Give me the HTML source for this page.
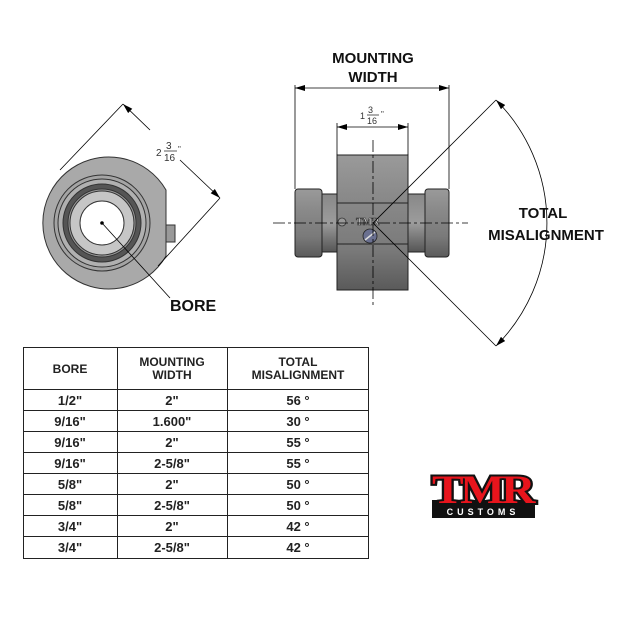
<!DOCTYPE html>
<html><head><meta charset="utf-8"><style>
html,body{margin:0;padding:0;background:#fff}
body{width:620px;height:619px;position:relative;overflow:hidden;font-family:"Liberation Sans",sans-serif}
</style></head><body>
<svg width="620" height="619" viewBox="0 0 620 619" xmlns="http://www.w3.org/2000/svg" style="position:absolute;left:0;top:0">
<defs>
<linearGradient id="cyl" x1="0" y1="0" x2="0" y2="1">
<stop offset="0" stop-color="#9a9a9a"/><stop offset="0.3" stop-color="#8a8a8a"/><stop offset="0.7" stop-color="#7a7a7a"/><stop offset="1" stop-color="#5a5a5a"/>
</linearGradient>
<linearGradient id="hub" x1="0" y1="0" x2="0" y2="1">
<stop offset="0" stop-color="#888"/><stop offset="0.5" stop-color="#9c9c9c"/><stop offset="1" stop-color="#555"/>
</linearGradient>
<marker id="ar" viewBox="0 0 10 6" refX="10" refY="3" markerWidth="10" markerHeight="6" orient="auto-start-reverse" markerUnits="userSpaceOnUse"><path d="M0,0 L10,3 L0,6 z" fill="#000"/></marker>
</defs>

<!-- FRONT VIEW -->
<g stroke="#333" stroke-width="1">
<path d="M166,190 A66,66 0 1 0 166,256 Z" fill="#a9a9a9"/>
<rect x="166" y="225" width="9" height="17" fill="#999"/>
<circle cx="102" cy="223" r="48" fill="#a4a4a4"/>
<circle cx="102" cy="223" r="44" fill="#b0b0b0"/>
<circle cx="102" cy="223" r="39" fill="#555"/>
<circle cx="102" cy="223" r="34" fill="#9a9a9a"/>
<circle cx="102" cy="223" r="32" fill="#c6c6c6"/>
<circle cx="102" cy="223" r="22" fill="#fff"/>
</g>
<circle cx="102" cy="223" r="1.8" fill="#000"/>
<g stroke="#000" stroke-width="0.8" fill="none">
<line x1="123" y1="104" x2="60" y2="170"/>
<line x1="220" y1="198" x2="158" y2="266"/>
<line x1="123" y1="104" x2="150" y2="130" marker-start="url(#ar)"/>
<line x1="180" y1="160" x2="220" y2="198" marker-end="url(#ar)"/>
<line x1="102" y1="223" x2="170" y2="298"/>
</g>
<text x="156" y="156" font-size="10" fill="#333">2</text>
<text x="166" y="149" font-size="10" fill="#333">3</text>
<line x1="164" y1="151" x2="177" y2="151" stroke="#333" stroke-width="0.8"/>
<text x="164" y="161" font-size="10" fill="#333">16</text>
<text x="178" y="152" font-size="8" fill="#333">"</text>
<text x="170" y="311" font-size="16" font-weight="bold" fill="#111">BORE</text>

<!-- SIDE VIEW -->
<g stroke="#222" stroke-width="1">
<rect x="295" y="189" width="27" height="68" rx="3" fill="url(#cyl)"/>
<rect x="322" y="194" width="15" height="58" fill="url(#hub)"/>
<rect x="408" y="194" width="17" height="58" fill="url(#hub)"/>
<rect x="425" y="189" width="24" height="68" rx="3" fill="url(#cyl)"/>
<rect x="337" y="155" width="71" height="135" fill="url(#cyl)"/>
<line x1="337" y1="203" x2="408" y2="203"/>
<line x1="337" y1="244" x2="408" y2="244"/>
</g>
<circle cx="342" cy="222" r="4" fill="#999" stroke="#333" stroke-width="0.8"/>
<circle cx="370" cy="236" r="7" fill="#6a7090" stroke="#222" stroke-width="0.8"/>
<line x1="365" y1="240" x2="375" y2="232" stroke="#ddd" stroke-width="1.5"/>
<text x="356" y="225" font-size="10" font-weight="bold" font-family="Liberation Serif,serif" fill="#ccc" stroke="#333" stroke-width="0.5">TMR</text>
<g stroke="#000" stroke-width="0.8" fill="none">
<line x1="273" y1="223" x2="468" y2="223" stroke-dasharray="12,3,3,3"/>
<line x1="373" y1="140" x2="373" y2="308" stroke-dasharray="12,3,3,3"/>
<line x1="295" y1="85" x2="295" y2="189"/>
<line x1="449" y1="85" x2="449" y2="189"/>
<line x1="295" y1="88" x2="449" y2="88" marker-start="url(#ar)" marker-end="url(#ar)"/>
<line x1="337" y1="123" x2="337" y2="155"/>
<line x1="408" y1="123" x2="408" y2="155"/>
<line x1="337" y1="127" x2="408" y2="127" marker-start="url(#ar)" marker-end="url(#ar)"/>
<line x1="373" y1="223" x2="496" y2="100"/>
<line x1="373" y1="223" x2="496" y2="346"/>
<path d="M496,100 A174,174 0 0 1 496,346" marker-start="url(#ar)" marker-end="url(#ar)"/>
</g>
<text x="373" y="63" font-size="15" font-weight="bold" fill="#111" text-anchor="middle">MOUNTING</text>
<text x="373" y="82" font-size="15" font-weight="bold" fill="#111" text-anchor="middle">WIDTH</text>
<text x="360" y="119" font-size="9" fill="#333">1</text>
<text x="368" y="113" font-size="9" fill="#333">3</text>
<line x1="367" y1="115" x2="379" y2="115" stroke="#333" stroke-width="0.8"/>
<text x="367" y="124" font-size="9" fill="#333">16</text>
<text x="381" y="117" font-size="8" fill="#333">"</text>
<text x="543" y="218" font-size="15" font-weight="bold" fill="#111" text-anchor="middle">TOTAL</text>
<text x="546" y="240" font-size="15" font-weight="bold" fill="#111" text-anchor="middle">MISALIGNMENT</text>

<!-- TABLE -->
<g stroke="#222" stroke-width="1" fill="none">
<rect x="23.5" y="347.5" width="345" height="211"/>
<line x1="117.5" y1="347" x2="117.5" y2="559"/>
<line x1="227.5" y1="347" x2="227.5" y2="559"/>
<line x1="23" y1="389.5" x2="369" y2="389.5"/>
<line x1="23" y1="410.5" x2="369" y2="410.5"/>
<line x1="23" y1="431.5" x2="369" y2="431.5"/>
<line x1="23" y1="452.5" x2="369" y2="452.5"/>
<line x1="23" y1="473.5" x2="369" y2="473.5"/>
<line x1="23" y1="494.5" x2="369" y2="494.5"/>
<line x1="23" y1="515.5" x2="369" y2="515.5"/>
<line x1="23" y1="536.5" x2="369" y2="536.5"/>
</g>
<g font-size="12" font-weight="bold" fill="#222" text-anchor="middle">
<text x="70" y="373">BORE</text>
<text x="172" y="366">MOUNTING</text><text x="172" y="379">WIDTH</text>
<text x="298" y="366">TOTAL</text><text x="298" y="379">MISALIGNMENT</text>
</g>
<g font-size="13" font-weight="bold" fill="#222" text-anchor="middle">
<text x="70" y="405">1/2"</text><text x="172" y="405">2"</text><text x="298" y="405">56 °</text>
<text x="70" y="426">9/16"</text><text x="172" y="426">1.600"</text><text x="298" y="426">30 °</text>
<text x="70" y="447">9/16"</text><text x="172" y="447">2"</text><text x="298" y="447">55 °</text>
<text x="70" y="468">9/16"</text><text x="172" y="468">2-5/8"</text><text x="298" y="468">55 °</text>
<text x="70" y="489">5/8"</text><text x="172" y="489">2"</text><text x="298" y="489">50 °</text>
<text x="70" y="510">5/8"</text><text x="172" y="510">2-5/8"</text><text x="298" y="510">50 °</text>
<text x="70" y="531">3/4"</text><text x="172" y="531">2"</text><text x="298" y="531">42 °</text>
<text x="70" y="552">3/4"</text><text x="172" y="552">2-5/8"</text><text x="298" y="552">42 °</text>
</g>

<!-- LOGO -->
<path d="M432,500 L532,500 L535,505 L535,518 L432,518 Z" fill="#111"/>
<text x="482" y="503" font-size="40" font-weight="bold" font-family="Liberation Serif,serif" fill="#e8141c" stroke="#111" stroke-width="4" paint-order="stroke" text-anchor="middle" letter-spacing="-3" textLength="100" lengthAdjust="spacingAndGlyphs">TMR</text>
<text x="483" y="515" font-size="9" font-weight="bold" fill="#fff" text-anchor="middle" letter-spacing="4">CUSTOMS</text>
</svg>
</body></html>
